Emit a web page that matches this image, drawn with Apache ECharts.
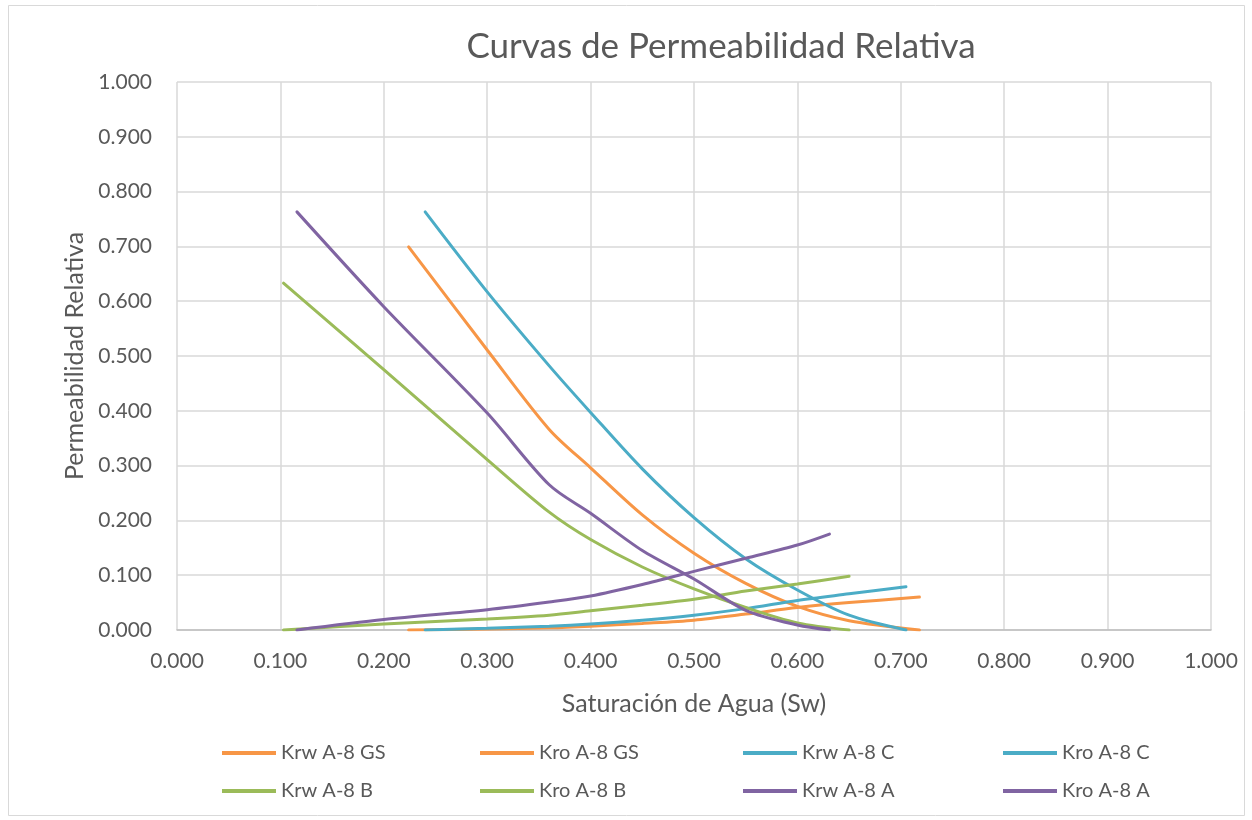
<!DOCTYPE html>
<html>
<head>
<meta charset="utf-8">
<script src="https://cdn.jsdelivr.net/npm/echarts@6/dist/echarts.min.js"></script>
<style>
html,body{margin:0;padding:0;background:#fff;}
#chart{width:1252px;height:820px;}
</style>
</head>
<body>
<div id="chart"></div>
<script>
// Data: [Sw, k]
const krwGS = [[0.224,0],[0.30,0.002],[0.36,0.004],[0.40,0.007],[0.45,0.012],[0.50,0.018],[0.55,0.029],[0.60,0.041],[0.65,0.050],[0.718,0.060]];
const kroGS = [[0.224,0.699],[0.30,0.511],[0.36,0.366],[0.40,0.296],[0.45,0.210],[0.50,0.140],[0.55,0.085],[0.60,0.043],[0.65,0.017],[0.718,0]];
const krwC  = [[0.240,0],[0.30,0.003],[0.36,0.007],[0.40,0.011],[0.45,0.018],[0.50,0.027],[0.55,0.039],[0.60,0.054],[0.65,0.066],[0.705,0.079]];
const kroC  = [[0.240,0.763],[0.30,0.617],[0.36,0.482],[0.40,0.397],[0.45,0.294],[0.50,0.205],[0.55,0.130],[0.60,0.073],[0.65,0.027],[0.705,0]];
const krwB  = [[0.103,0],[0.20,0.011],[0.30,0.020],[0.36,0.027],[0.40,0.035],[0.45,0.045],[0.50,0.056],[0.55,0.071],[0.60,0.084],[0.650,0.098]];
const kroB  = [[0.103,0.633],[0.20,0.475],[0.30,0.311],[0.36,0.215],[0.40,0.165],[0.45,0.115],[0.50,0.075],[0.55,0.041],[0.60,0.013],[0.650,0]];
const krwA  = [[0.116,0],[0.20,0.019],[0.30,0.037],[0.36,0.051],[0.40,0.062],[0.45,0.083],[0.50,0.107],[0.55,0.131],[0.60,0.155],[0.631,0.175]];
const kroA  = [[0.116,0.763],[0.20,0.590],[0.30,0.396],[0.36,0.265],[0.40,0.213],[0.45,0.145],[0.50,0.093],[0.55,0.036],[0.60,0.009],[0.631,0]];

const seriesNames = ['Krw A-8 GS','Kro A-8 GS','Krw A-8 C','Kro A-8 C','Krw A-8 B','Kro A-8 B','Krw A-8 A','Kro A-8 A'];
const seriesData = [krwGS, kroGS, krwC, kroC, krwB, kroB, krwA, kroA];
const seriesColors = ['#F79646','#F79646','#4BACC6','#4BACC6','#9BBB59','#9BBB59','#8064A2','#8064A2'];

const FONT = 'Lato, "Liberation Sans", sans-serif';
const TXT = '#595959';

const legendCols = [222, 480, 743, 1003];
const legendRows = [743, 781];

const chart = echarts.init(document.getElementById('chart'));
chart.setOption({
  animation: false,
  backgroundColor: '#fff',
  title: {
    text: 'Curvas de Permeabilidad Relativa',
    left: 721, top: 29, textAlign: 'center', padding: 0,
    textStyle: {color: TXT, fontSize: 35, fontWeight: 'normal', fontFamily: FONT}
  },
  graphic: [{
    type: 'rect', shape: {x: 8.5, y: 5.5, width: 1236, height: 810},
    style: {fill: 'none', stroke: '#d9d9d9', lineWidth: 1}, silent: true
  }],
  legend: seriesNames.map((n, i) => ({
    data: [n],
    left: legendCols[i % 4],
    top: legendRows[Math.floor(i / 4)],
    padding: 0,
    itemWidth: 54,
    itemHeight: 4,
    icon: 'rect',
    textStyle: {color: TXT, fontSize: 20, fontFamily: FONT}
  })),
  grid: {left: 177, right: 41, top: 82, bottom: 190, containLabel: false},
  xAxis: {
    type: 'value', min: 0, max: 1, interval: 0.1,
    name: 'Saturación de Agua (Sw)', nameLocation: 'middle', nameGap: 61,
    nameTextStyle: {color: TXT, fontSize: 25, fontFamily: FONT},
    axisLine: {show: true, lineStyle: {color: '#bfbfbf', width: 1.5}},
    axisTick: {show: false},
    axisLabel: {color: TXT, fontSize: 21, fontFamily: FONT, margin: 21, formatter: v => v.toFixed(3)},
    splitLine: {show: true, lineStyle: {color: '#d9d9d9', width: 1.5}}
  },
  yAxis: {
    type: 'value', min: 0, max: 1, interval: 0.1,
    name: 'Permeabilidad Relativa', nameLocation: 'middle', nameGap: 89,
    nameTextStyle: {color: TXT, fontSize: 25, fontFamily: FONT},
    axisLine: {show: false},
    axisTick: {show: false},
    axisLabel: {color: TXT, fontSize: 21, fontFamily: FONT, margin: 25, formatter: v => v.toFixed(3)},
    splitLine: {show: true, lineStyle: {color: '#d9d9d9', width: 1.5}}
  },
  series: seriesNames.map((n, i) => ({
    name: n, type: 'line', data: seriesData[i], smooth: 0.3,
    showSymbol: false, symbol: 'none',
    lineStyle: {color: seriesColors[i], width: 3, cap: 'round'},
    itemStyle: {color: seriesColors[i]}
  }))
});
</script>
</body>
</html>
